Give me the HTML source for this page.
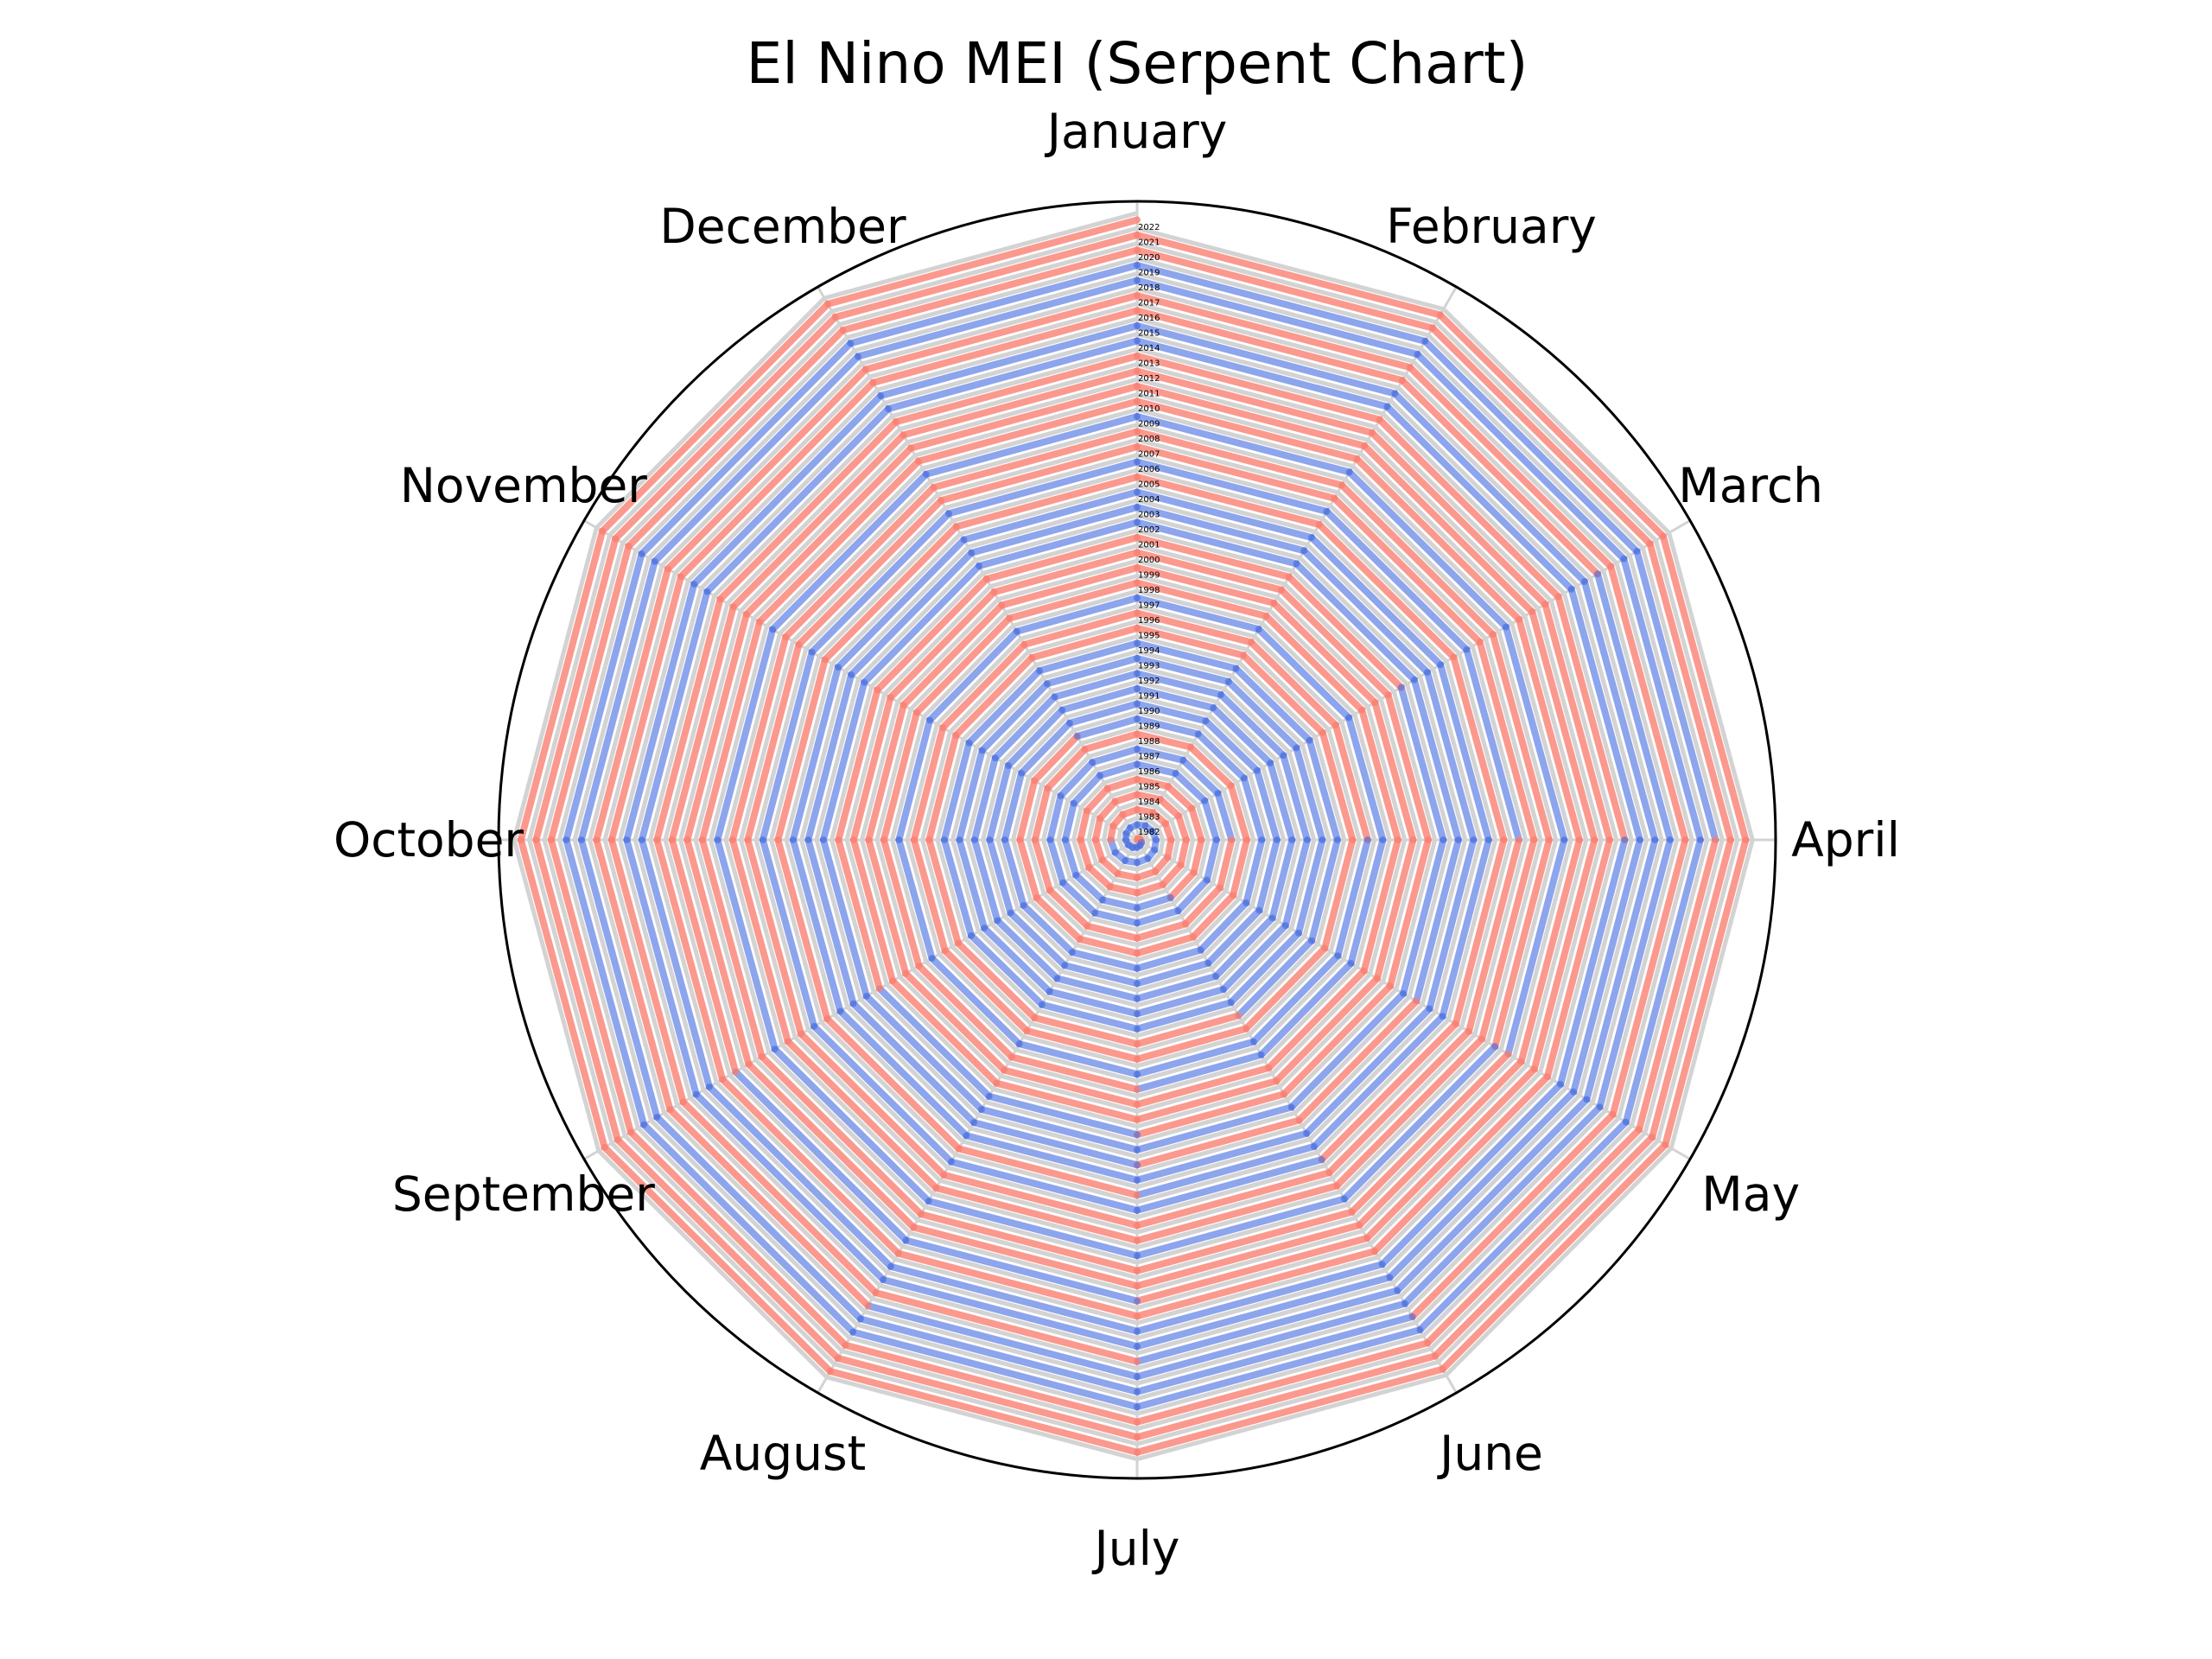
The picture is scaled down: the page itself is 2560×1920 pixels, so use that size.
<!DOCTYPE html>
<html><head><meta charset="utf-8"><style>
html,body{margin:0;padding:0;background:#fff;}
svg{display:block;font-family:"DejaVu Sans","Liberation Sans",sans-serif;}
</style></head><body>
<svg id="chart" width="2560" height="1920" viewBox="0 0 2560 1920" xmlns="http://www.w3.org/2000/svg">
<text x="1316" y="96" font-size="66" text-anchor="middle">El Nino MEI (Serpent Chart)</text>
<g id="grid"></g>
<g id="series"></g>
<g id="yearlabels"></g>
<g id="monthlabels"></g>
<circle cx="1316" cy="972" r="739" fill="none" stroke="#000" stroke-width="3"/>
</svg>
<script>
const months = ["January","February","March","April","May","June","July","August","September","October","November","December"];
const years = [];
for (let y = 1982; y <= 2022; y++) years.push(y);
const mei1982 = [-0.2,-0.3,-0.4,-0.4,0.2,0.9,1.4,1.6,1.8,2.0,2.1,2.2];
const mei1983 = [2.3,2.4,2.5,2.4,2.2,1.6,0.9,0.4,0.1,-0.2,-0.4,-0.5];
const mei1984 = [-0.5,-0.3,-0.2,-0.3,-0.4,-0.5,-0.3,-0.3,-0.4,-0.6,-0.8,-0.9];
const mei1985 = [-0.8,-0.7,-0.7,-0.8,-0.9,-0.7,-0.5,-0.4,-0.5,-0.4,-0.3,-0.3];
const mei1986 = [-0.4,-0.3,-0.2,-0.2,-0.1,0.2,0.5,0.8,1.0,1.1,1.0,1.0];
const mei1987 = [1.1,1.2,1.4,1.5,1.6,1.6,1.7,1.7,1.5,1.2,1.0,0.8];
const mei1988 = [0.6,0.4,0.1,-0.3,-0.9,-1.4,-1.6,-1.7,-1.8,-1.9,-1.8,-1.7];
const mei1989 = [-1.6,-1.5,-1.3,-1.1,-0.9,-0.7,-0.6,-0.4,-0.3,-0.2,-0.1,0.0];
const mei1990 = [0.1,0.2,0.3,0.3,0.3,0.2,0.2,0.2,0.2,0.2,0.2,0.3];
const mei1991 = [0.3,0.3,0.3,0.4,0.6,0.8,1.0,0.9,0.8,0.9,1.1,1.3];
const mei1992 = [1.5,1.7,1.8,1.7,1.6,1.2,0.7,0.4,0.3,0.2,0.3,0.4];
const mei1993 = [0.5,0.6,0.7,0.9,1.0,0.9,0.7,0.5,0.4,0.3,0.3,0.3];
const mei1994 = [0.2,0.2,0.3,0.4,0.5,0.6,0.7,0.7,0.8,0.9,1.0,1.0];
const mei1995 = [0.9,0.8,0.6,0.4,0.1,-0.2,-0.4,-0.6,-0.8,-0.9,-0.9,-0.8];
const mei1996 = [-0.8,-0.8,-0.7,-0.5,-0.4,-0.3,-0.3,-0.3,-0.3,-0.3,-0.4,-0.4];
const mei1997 = [-0.4,-0.3,-0.1,0.4,1.2,1.9,2.3,2.5,2.6,2.6,2.6,2.5];
const mei1998 = [2.4,2.3,2.2,1.9,1.3,0.4,-0.5,-1.0,-1.2,-1.3,-1.3,-1.2];
const mei1999 = [-1.2,-1.1,-1.0,-1.0,-1.1,-1.1,-1.1,-1.1,-1.2,-1.3,-1.4,-1.5];
const mei2000 = [-1.5,-1.4,-1.2,-1.0,-0.8,-0.7,-0.6,-0.6,-0.7,-0.8,-0.9,-0.9];
const mei2001 = [-0.9,-0.8,-0.6,-0.4,-0.2,-0.1,0.0,0.0,-0.1,-0.2,-0.3,-0.3];
const mei2002 = [-0.2,-0.1,0.1,0.3,0.5,0.7,0.8,0.9,1.0,1.1,1.1,1.0];
const mei2003 = [0.9,0.7,0.5,0.2,-0.1,-0.1,0.0,0.1,0.2,0.3,0.3,0.3];
const mei2004 = [0.2,0.1,0.1,0.2,0.3,0.4,0.5,0.6,0.6,0.6,0.6,0.6];
const mei2005 = [0.5,0.4,0.3,0.2,0.1,0.0,-0.1,-0.2,-0.3,-0.5,-0.6,-0.7];
const mei2006 = [-0.7,-0.6,-0.5,-0.3,-0.1,0.1,0.3,0.5,0.6,0.7,0.8,0.8];
const mei2007 = [0.6,0.3,0.0,-0.3,-0.5,-0.7,-0.9,-1.1,-1.3,-1.4,-1.5,-1.5];
const mei2008 = [-1.5,-1.4,-1.3,-1.1,-0.9,-0.8,-0.7,-0.8,-0.9,-1.0,-1.1,-1.1];
const mei2009 = [-1.0,-0.9,-0.6,-0.3,0.0,0.3,0.6,0.8,0.9,1.0,1.1,1.1];
const mei2010 = [1.1,1.0,0.8,0.4,-0.2,-0.9,-1.5,-1.9,-2.1,-2.2,-2.2,-2.1];
const mei2011 = [-2.0,-1.8,-1.6,-1.4,-1.2,-1.1,-1.1,-1.2,-1.3,-1.4,-1.4,-1.3];
const mei2012 = [-1.2,-1.0,-0.8,-0.5,-0.3,-0.1,0.0,0.0,-0.1,-0.2,-0.2,-0.3];
const mei2013 = [-0.3,-0.4,-0.4,-0.4,-0.4,-0.4,-0.4,-0.3,-0.3,-0.2,-0.2,-0.2];
const mei2014 = [-0.3,-0.3,-0.1,0.1,0.3,0.4,0.4,0.3,0.3,0.3,0.4,0.5];
const mei2015 = [0.5,0.5,0.6,0.8,1.1,1.4,1.7,1.9,2.0,2.1,2.1,2.0];
const mei2016 = [1.9,1.7,1.4,1.0,0.6,0.2,-0.1,-0.3,-0.4,-0.4,-0.4,-0.3];
const mei2017 = [-0.3,-0.2,0.0,0.2,0.3,0.2,0.0,-0.3,-0.6,-0.7,-0.8,-0.8];
const mei2018 = [-0.8,-0.7,-0.6,-0.4,-0.2,0.0,0.1,0.2,0.4,0.5,0.6,0.6];
const mei2019 = [0.5,0.5,0.5,0.4,0.3,0.3,0.2,0.1,0.1,0.1,0.1,0.2];
const mei2020 = [0.2,0.2,0.1,-0.1,-0.4,-0.7,-0.9,-1.0,-1.1,-1.2,-1.2,-1.2];
const mei2021 = [-1.1,-1.0,-0.9,-0.9,-1.0,-1.1,-1.2,-1.2,-1.3,-1.4,-1.4,-1.3];
const mei2022 = [-1.2,-1.1,-1.1,-1.3,-1.5,-1.6,-1.6,-1.6,-1.6,-1.5,-1.4,-1.3];
const meiByYear = [mei1982,mei1983,mei1984,mei1985,mei1986,mei1987,mei1988,mei1989,mei1990,mei1991,mei1992,mei1993,mei1994,mei1995,mei1996,mei1997,mei1998,mei1999,mei2000,mei2001,mei2002,mei2003,mei2004,mei2005,mei2006,mei2007,mei2008,mei2009,mei2010,mei2011,mei2012,mei2013,mei2014,mei2015,mei2016,mei2017,mei2018,mei2019,mei2020,mei2021,mei2022];

const NS = "http://www.w3.org/2000/svg";
const CX = 1316, CY = 972, UNIT = 17.5, RFRAME = 739;
function rScale(r){ return r * UNIT; }
function angle(m){ return m / 12 * 2 * Math.PI; }
function pt(r, m){ const a = angle(m), rr = rScale(r); return [CX + rr*Math.sin(a), CY - rr*Math.cos(a)]; }

const grid = document.getElementById('grid');
const series = document.getElementById('series');
const yl = document.getElementById('yearlabels');
const ml = document.getElementById('monthlabels');

for (let m = 0; m < 12; m++) {
  const a = angle(m);
  const l = document.createElementNS(NS,'line');
  l.setAttribute('x1', CX); l.setAttribute('y1', CY);
  l.setAttribute('x2', CX + RFRAME*Math.sin(a)); l.setAttribute('y2', CY - RFRAME*Math.cos(a));
  l.setAttribute('stroke','#d3d3d3'); l.setAttribute('stroke-width','3');
  
  
  grid.appendChild(l);
}
for (let k = 0; k < years.length; k++) {
  const pts = [];
  for (let m = 0; m <= 12; m++) pts.push(pt(k + 0.45 + m/12, m).join(','));
  const p = document.createElementNS(NS,'polyline');
  p.setAttribute('points', pts.join(' '));
  p.setAttribute('fill','none'); p.setAttribute('stroke','#d3d3d3'); p.setAttribute('stroke-width','5');
  
  
  grid.appendChild(p);
}
for (let k = 0; k < years.length; k++) {
  const vals = meiByYear[k];
  for (let m = 0; m < 12; m++) {
    const v = vals[m];
    const a = pt(k + m/12, m);
    const b = pt(k + (m+1)/12, m+1);
    const s = document.createElementNS(NS,'line');
    s.setAttribute('x1', a[0]); s.setAttribute('y1', a[1]);
    s.setAttribute('x2', b[0]); s.setAttribute('y2', b[1]);
    s.setAttribute('stroke', v < 0 ? '#fa8072' : '#4169e1');
    s.setAttribute('stroke-opacity', v < 0 ? '0.8' : '0.6');
    s.setAttribute('stroke-width','8'); s.setAttribute('stroke-linecap','round');
    
    
    series.appendChild(s);
  }
}
for (let k = 0; k < years.length; k++) {
  const t = document.createElementNS(NS,'text');
  t.setAttribute('x', CX + 1);
  t.setAttribute('y', CY - (10 + k*UNIT) + 4);
  t.setAttribute('font-size','10');
  t.textContent = years[k];
  
  
  yl.appendChild(t);
}
for (let m = 0; m < 12; m++) {
  const a = angle(m);
  const t = document.createElementNS(NS,'text');
  t.setAttribute('x', CX + 820*Math.sin(a));
  t.setAttribute('y', CY - 820*Math.cos(a) + 19);
  t.setAttribute('font-size','55'); t.setAttribute('text-anchor','middle');
  t.textContent = months[m];
  
  
  ml.appendChild(t);
}
</script>
</body></html>
